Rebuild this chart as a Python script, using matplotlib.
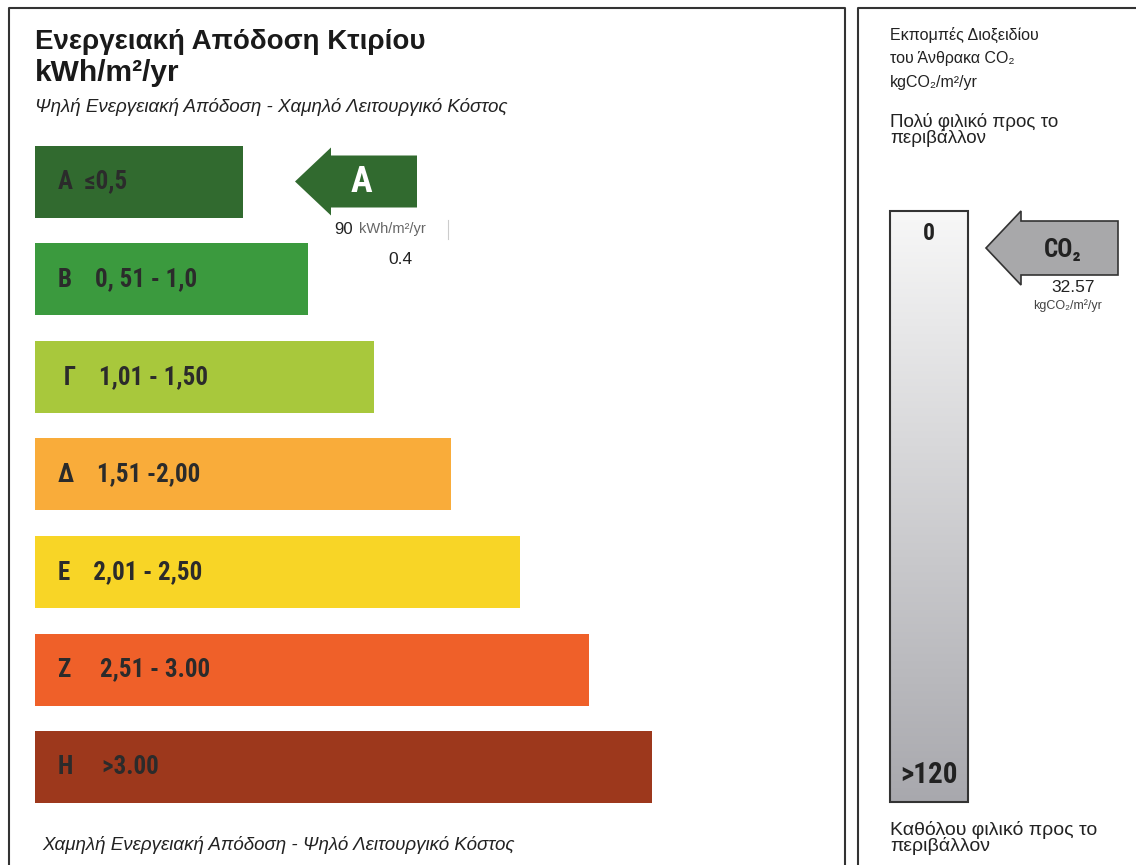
import numpy as np
import matplotlib
matplotlib.use("Agg")
import matplotlib.pyplot as plt
from matplotlib.patches import Polygon, Rectangle

# energy classes
classes = ['A', 'B', 'Γ', 'Δ', 'E', 'Z', 'H']
labels = ['A  ≤0,5', 'B    0, 51 - 1,0', ' Γ    1,01 - 1,50', 'Δ    1,51 -2,00',
          'E    2,01 - 2,50', 'Z     2,51 - 3.00', 'H     >3.00']
bar_len = [208, 273, 339, 416, 485, 554, 617]
colors = ['#316a2f', '#3b9a3e', '#a8c83c', '#f9ac3a', '#f8d526', '#ef6029', '#9d381c']

# building rating
rating = 'A'
energy_value = 90
energy_ratio = 0.4
co2_value = 32.57
co2_scale = ['0', '>120']

NARROW = ['Liberation Sans Narrow', 'Roboto Condensed', 'DejaVu Sans']
SANS = ['Liberation Sans', 'DejaVu Sans']

fig = plt.figure(figsize=(11.36, 8.65), dpi=100)
ax = fig.add_axes([0, 0, 1, 1])
ax.set_xlim(0, 1136)
ax.set_ylim(865, 0)
ax.axis('off')

# panel frames
ax.plot([9, 9, 845, 845], [870, 8, 8, 870], color='#333333', lw=1.5)
ax.plot([858, 858, 1140], [870, 8, 8], color='#333333', lw=1.5)

# titles
ax.text(35, 42, 'Ενεργειακή Απόδοση Κτιρίου', fontsize=20, family=SANS, weight='bold', va='center', color='#1a1a1a')
ax.text(35, 73, 'kWh/m²/yr', fontsize=21.5, family=SANS, weight='bold', va='center', color='#1a1a1a')
ax.text(35, 107, 'Ψηλή Ενεργειακή Απόδοση - Χαμηλό Λειτουργικό Κόστος', fontsize=13.5,
        family=SANS, style='italic', va='center', color='#222222')
ax.text(42, 845, 'Χαμηλή Ενεργειακή Απόδοση - Ψηλό Λειτουργικό Κόστος', fontsize=13.5,
        family=SANS, style='italic', va='center', color='#222222')

# class bars
y = 181.5 + 97.6 * np.arange(len(classes))
ax.barh(y, bar_len, height=72, left=35, color=colors)
for yi, lab in zip(y, labels):
    ax.text(58, yi, lab, fontsize=18, family=NARROW, stretch='condensed', weight='bold',
            va='center', color='#2b2b2b')

# rating arrow
i = classes.index(rating)
yc = y[i]
arrow = Polygon([[295, yc], [331, yc - 34], [331, yc - 26], [417, yc - 26], [417, yc + 26],
                 [331, yc + 26], [331, yc + 34]], closed=True, facecolor=colors[i], edgecolor='none')
ax.add_patch(arrow)
ax.text(361, yc, rating, fontsize=26, family=NARROW, stretch='condensed', weight='bold',
        color='white', ha='center', va='center')
ax.text(334, 229, str(energy_value), fontsize=12, family=SANS, va='center', color='#222222')
ax.text(359, 229, 'kWh/m²/yr', fontsize=10.5, family=SANS, va='center', color='#666666')
ax.plot([448, 448], [220, 239], color='#cccccc', lw=0.8)
ax.text(400, 260, str(energy_ratio), fontsize=12.5, family=SANS, ha='center', va='center', color='#222222')

# CO2 panel
ax.text(890, 35, 'Εκπομπές Διοξειδίου', fontsize=11.5, family=SANS, va='center', color='#222222')
ax.text(890, 58, 'του Άνθρακα CO₂', fontsize=11.5, family=SANS, va='center', color='#222222')
ax.text(890, 82, 'kgCO₂/m²/yr', fontsize=11.5, family=SANS, va='center', color='#222222')
ax.text(890, 130, 'Πολύ φιλικό προς το\nπεριβάλλον', fontsize=13.5, family=SANS, va='center',
        color='#222222', linespacing=0.8)
ax.text(890, 838, 'Καθόλου φιλικό προς το\nπεριβάλλον', fontsize=14, family=SANS, va='center',
        color='#222222', linespacing=0.8)

grad = np.linspace(0, 1, 256).reshape(-1, 1)
top = np.array([0.97, 0.97, 0.97])
bot = np.array([0.66, 0.66, 0.68])
img = top + grad[..., None] * (bot - top)
ax.imshow(img, extent=[890, 968, 802, 211], aspect='auto', zorder=1)
ax.add_patch(Rectangle((890, 211), 78, 591, fill=False, edgecolor='#333333', lw=1.5, zorder=2))
ax.text(929, 234, co2_scale[0], fontsize=17, family=NARROW, stretch='condensed', weight='bold',
        ha='center', va='center', color='#222222')
ax.text(929, 775, co2_scale[1], fontsize=21, family=NARROW, stretch='condensed', weight='bold',
        ha='center', va='center', color='#222222')

yc2 = 248
co2_arrow = Polygon([[986, yc2], [1021, yc2 - 37], [1021, yc2 - 27], [1118, yc2 - 27], [1118, yc2 + 27],
                     [1021, yc2 + 27], [1021, yc2 + 37]], closed=True, facecolor='#a8a8aa',
                    edgecolor='#333333', lw=1.2, zorder=2)
ax.add_patch(co2_arrow)
ax.text(1063, 250, 'CO₂', fontsize=18, family=NARROW, stretch='condensed', weight='bold',
        ha='center', va='center', color='#222222', zorder=3)
ax.text(1073, 287, f'{co2_value:.2f}', fontsize=12.5, family=SANS, ha='center', va='center', color='#222222')
ax.text(1068, 306, 'kgCO₂/m²/yr', fontsize=9, family=SANS, ha='center', va='center', color='#444444')

fig.savefig('out.png', dpi=100, facecolor='white')
